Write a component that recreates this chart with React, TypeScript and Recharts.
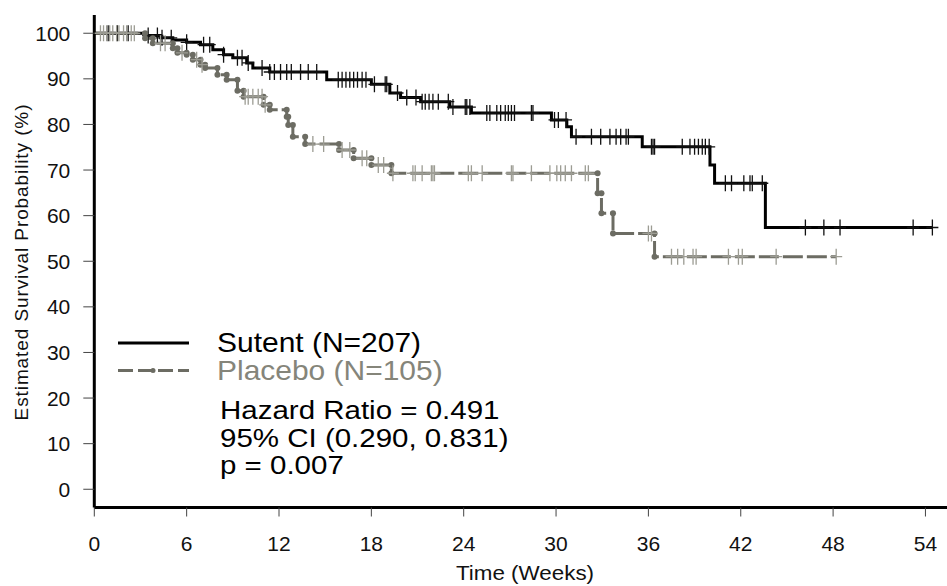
import React from 'react';
import { ComposedChart, Line, Scatter, XAxis, YAxis, Label } from 'recharts';

const xTicks = [0, 6, 12, 18, 24, 30, 36, 42, 48, 54];
const yTicks = [0, 10, 20, 30, 40, 50, 60, 70, 80, 90, 100];

// Kaplan-Meier step points (time in weeks, survival %)
const sutentTimes = [0, 3.4, 4.3, 5.1, 6.0, 6.9, 7.7, 8.4, 9.0, 9.9, 10.3, 11.4, 15.1, 18.0, 19.2, 19.9, 21.2, 23.1, 24.5, 29.7, 30.7, 31.0, 35.6, 40.0, 40.3, 43.6, 54.45];
const sutentSurv = [100, 99.5, 99.0, 98.5, 98.0, 97.5, 96.4, 95.3, 94.6, 93.5, 92.4, 91.5, 89.8, 88.8, 86.9, 85.9, 85.0, 83.8, 82.5, 81.0, 79.5, 77.3, 75.1, 71.1, 67.1, 57.4, 57.4];

const placeboTimes = [0, 3.3, 3.8, 5.1, 5.4, 6.0, 6.4, 6.9, 7.2, 8.0, 8.6, 9.3, 9.7, 11.0, 11.4, 12.5, 12.6, 12.9, 13.7, 15.9, 16.85, 18.0, 19.3, 32.7, 32.95, 33.7, 36.4, 48.2];
const placeboSurv = [100, 98.9, 97.8, 96.7, 95.7, 95.3, 94.2, 93.1, 92.4, 90.9, 89.8, 87.4, 86.1, 84.3, 83.2, 81.7, 79.9, 77.3, 75.7, 74.4, 72.6, 71.1, 69.3, 64.9, 60.5, 56.1, 51.0, 51.0];

// Censoring times
const sutentCensorTimes = [0.9, 1.5, 2.2, 3.5, 4.1, 4.4, 5.0, 6.0, 7.1, 7.5, 8.4, 9.3, 9.6, 10.0, 10.9, 11.4, 11.7, 12.1, 12.5, 12.8, 13.4, 13.9, 14.45, 15.85, 16.1, 16.35, 16.6, 16.85, 17.1, 17.4, 17.65, 18.2, 18.9, 19.0, 19.7, 20.3, 20.9, 21.3, 21.5, 21.75, 22.0, 22.35, 23.0, 23.3, 24.1, 24.2, 24.4, 25.5, 25.7, 26.15, 26.4, 26.7, 26.9, 27.1, 27.3, 28.4, 28.5, 29.9, 30.15, 30.65, 31.3, 32.3, 32.9, 33.5, 33.9, 34.2, 34.55, 34.7, 36.2, 36.3, 36.4, 38.2, 38.7, 39.0, 39.25, 39.5, 39.7, 39.95, 41.0, 41.4, 42.2, 42.6, 42.75, 43.4, 46.2, 47.4, 48.45, 53.2, 54.45];
const placeboCensorTimes = [0.4, 0.6, 0.8, 1.0, 1.2, 1.45, 1.6, 1.9, 2.1, 2.4, 2.6, 4.3, 4.6, 5.7, 6.65, 7.0, 9.8, 10.0, 10.3, 10.65, 10.9, 11.1, 14.2, 14.9, 16.1, 16.6, 17.4, 17.7, 18.45, 18.8, 19.4, 20.7, 20.85, 21.3, 21.9, 22.0, 22.1, 24.3, 24.5, 25.2, 27.1, 27.2, 28.4, 29.6, 30.05, 30.3, 30.6, 31.0, 31.9, 32.1, 36.0, 36.2, 37.5, 37.9, 38.3, 38.9, 39.1, 41.2, 41.85, 42.1, 44.3, 48.2];

const legendLabels = ['Sutent (N=207)', 'Placebo (N=105)'];
const statLines = ['Hazard Ratio = 0.491', '95% CI (0.290, 0.831)', 'p = 0.007'];

function survAt(times: number[], surv: number[], t: number) {
  let s = surv[0];
  for (let i = 0; i < times.length; i++) if (times[i] <= t) s = surv[i];
  return s;
}

const sutentSteps = sutentTimes.map((t, i) => ({ t, s: sutentSurv[i] }));
const placeboSteps = placeboTimes.map((t, i) => ({ t, s: placeboSurv[i] }));
const sutentCensor = sutentCensorTimes.map((t) => ({ t, s: survAt(sutentTimes, sutentSurv, t) }));
const placeboCensor = placeboCensorTimes.map((t) => ({ t, s: survAt(placeboTimes, placeboSurv, t) }));
const placeboCorners = placeboTimes.slice(1, -1).flatMap((t, k) => [
  { t, s: placeboSurv[k] },
  { t, s: placeboSurv[k + 1] },
]);

const FONT = '"Liberation Sans", Arial, Helvetica, sans-serif';
const PLACEBO = '#6c6c63';
const PLACEBO_TICK = '#9c9c93';

const makeCensor = (color: string) => (props: any) => {
  const { cx, cy } = props;
  if (cx == null || cy == null) return <g />;
  return (
    <g>
      <line x1={cx} x2={cx} y1={cy - 8} y2={cy + 8} stroke={color} strokeWidth={1.3} />
      <line x1={cx - 6} x2={cx + 6} y1={cy} y2={cy} stroke={color} strokeWidth={1.3} />
    </g>
  );
};

const DotShape = (props: any) => {
  const { cx, cy } = props;
  if (cx == null || cy == null) return <g />;
  return <circle cx={cx} cy={cy} r={3} fill={PLACEBO} />;
};

const StretchText = ({ x, y, sx, fontSize, fill, anchor, children }: any) => (
  <text
    x={0}
    y={0}
    transform={`translate(${x},${y}) scale(${sx},1)`}
    fontSize={fontSize}
    fontFamily={FONT}
    fill={fill}
    textAnchor={anchor || 'start'}
  >
    {children}
  </text>
);

export default function App() {
  return (
    <div style={{ position: 'absolute', left: 0, top: 0, width: 947, height: 586, background: '#fff', overflow: 'hidden' }}>
      <ComposedChart width={947} height={586} margin={{ top: 15, right: 0, left: 0, bottom: 0 }}>
        <XAxis
          type="number"
          dataKey="t"
          domain={[0, 55.4]}
          ticks={xTicks}
          interval={0}
          allowDataOverflow
          height={78.5}
          axisLine={{ stroke: '#000', strokeWidth: 3 }}
          tickLine={{ stroke: '#444', strokeWidth: 1 }}
          tickSize={9}
          tickMargin={20}
          tick={{ fontSize: 21, fill: '#111', fontFamily: FONT }}
        >
          <Label
            content={() => (
              <StretchText x={525} y={580} sx={1.12} fontSize={20} fill="#111" anchor="middle">
                Time (Weeks)
              </StretchText>
            )}
          />
        </XAxis>
        <YAxis
          type="number"
          dataKey="s"
          domain={[-4, 104]}
          ticks={yTicks}
          interval={0}
          allowDataOverflow
          width={94.3}
          axisLine={{ stroke: '#000', strokeWidth: 3 }}
          tickLine={{ stroke: '#444', strokeWidth: 1 }}
          tickSize={11}
          tickMargin={13}
          tick={{ fontSize: 21, fill: '#111', fontFamily: FONT }}
        >
          <Label
            content={() => (
              <text x={0} y={0} transform="translate(28,262) rotate(-90)" textAnchor="middle" fontSize={19} fontFamily={FONT} fill="#111" letterSpacing={0.9}>
                Estimated Survival Probability (%)
              </text>
            )}
          />
        </YAxis>
        <Line data={sutentSteps} dataKey="s" type="stepAfter" stroke="#000" strokeWidth={3} dot={false} isAnimationActive={false} />
        <Scatter data={sutentCensor} shape={makeCensor('#111')} isAnimationActive={false} />
        <Line data={placeboSteps} dataKey="s" type="stepAfter" stroke={PLACEBO} strokeWidth={3} strokeDasharray="20 4" dot={false} isAnimationActive={false} />
        <Scatter data={placeboCorners} shape={DotShape} isAnimationActive={false} />
        <Scatter data={placeboCensor} shape={makeCensor(PLACEBO_TICK)} isAnimationActive={false} />
      </ComposedChart>
      <svg width={947} height={586} style={{ position: 'absolute', left: 0, top: 0, pointerEvents: 'none' }}>
        <line x1={118} x2={189} y1={343} y2={343} stroke="#000" strokeWidth={3} />
        <line x1={118} x2={189} y1={370.5} y2={370.5} stroke={PLACEBO} strokeWidth={3} strokeDasharray="15 5" />
        <circle cx={153} cy={370.5} r={2.5} fill={PLACEBO} />
        <StretchText x={217} y={351.7} sx={1.11} fontSize={27} fill="#000">{legendLabels[0]}</StretchText>
        <StretchText x={217} y={379.5} sx={1.11} fontSize={27} fill="#85857a">{legendLabels[1]}</StretchText>
        {statLines.map((s, i) => (
          <StretchText key={s} x={220} y={419.3 + i * 27.3} sx={1.18} fontSize={25} fill="#000">{s}</StretchText>
        ))}
      </svg>
    </div>
  );
}
